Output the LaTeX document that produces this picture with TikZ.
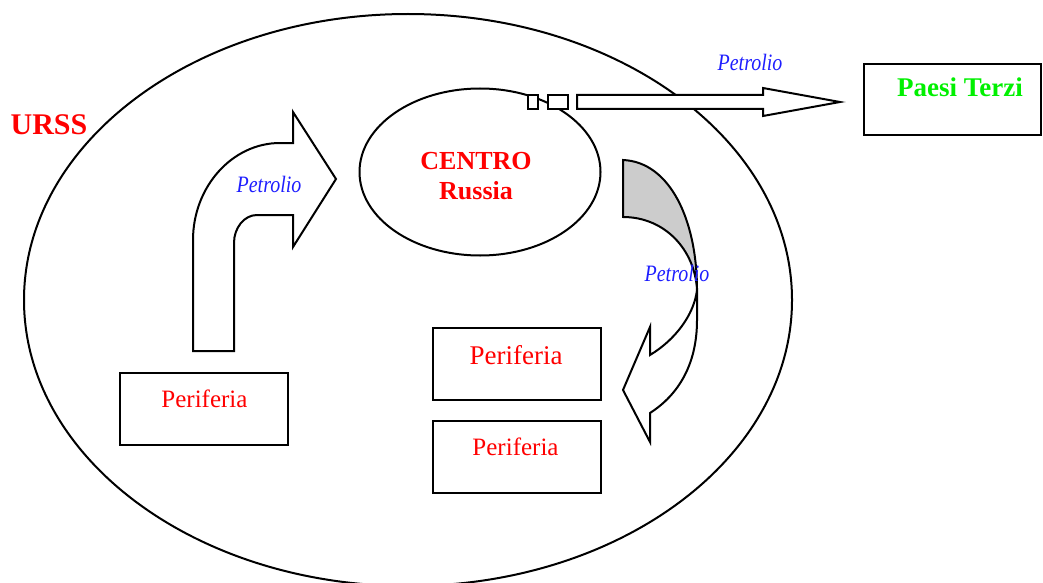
\documentclass[tikz,border=0pt]{standalone}
\usepackage{fontspec}
\setmainfont{Liberation Serif}[BoldFont={Liberation Serif Bold}, ItalicFont={Liberation Serif Italic}]
\newfontfamily\oilfont{Liberation Serif Italic}[FakeStretch=0.85]
\usetikzlibrary{shapes.geometric}
\definecolor{pred}{RGB}{255,0,0}
\definecolor{pblue}{RGB}{30,30,255}
\definecolor{pgreen}{RGB}{0,240,0}
\definecolor{pgray}{RGB}{204,204,204}
\tikzset{
  ln/.style={line width=2pt, line join=miter},
  box/.style={ln, draw, rectangle, inner sep=0pt},
  lab/.style={anchor=base, inner sep=0pt, text=pred, font=\fontsize{25}{30}\selectfont},
  bold/.style={anchor=base, inner sep=0pt, text=pred, font=\fontsize{26}{30}\selectfont\bfseries},
  oil/.style={anchor=base, inner sep=0pt, text=pblue, font=\oilfont\fontsize{23.5}{28}\selectfont},
  blockarrow/.style={ln, draw, fill=white},
}
\begin{document}
\begin{tikzpicture}[x=1pt,y=-1pt]
\useasboundingbox (0,0) rectangle (1043,583);
\clip (0,0) rectangle (1043,583);
% big ellipse URSS
\node[ln, draw, ellipse, minimum width=768pt, minimum height=572pt, inner sep=0pt] (urss) at (408,300) {};
\node[bold, font=\fontsize{30}{34}\selectfont\bfseries] (ursslab) at (49,134) {URSS};
% centre ellipse
\node[ln, draw, ellipse, minimum width=241pt, minimum height=167pt, inner sep=0pt] (centro) at (480,172) {};
\node[bold] (centrolab) at (476,169) {CENTRO};
\node[bold] (russialab) at (476,199) {Russia};
% Paesi Terzi box
\node[box, minimum width=177pt, minimum height=71pt] (terzi) at (952.5,99.5) {};
\node[bold, text=pgreen, font=\fontsize{27}{30}\selectfont\bfseries] (terzilab) at (960,97) {Paesi Terzi};
% Periferia boxes
\node[box, minimum width=168pt, minimum height=72pt] (per1) at (204,409) {};
\node[lab] (per1lab) at (204.5,407) {Periferia};
\node[box, minimum width=168pt, minimum height=72pt] (per2) at (516.5,364) {};
\node[lab, font=\fontsize{27}{30}\selectfont] (per2lab) at (516,364) {Periferia};
\node[box, minimum width=168pt, minimum height=72pt] (per3) at (516.5,457) {};
\node[lab] (per3lab) at (515.5,455) {Periferia};
% top arrow to Paesi Terzi
\draw[blockarrow] (528,95) rectangle (538,109);
\draw[blockarrow] (548,95) rectangle (568,109);
\draw[blockarrow] (577,95) -- (763,95) -- (763,88) -- (840,102) -- (763,116) -- (763,109) -- (577,109) -- cycle;
\node[oil] (oil1) at (750,71) {Petrolio};
% left bent arrow
\draw[blockarrow] (193,351) -- (193,240)
  .. controls (193,187) and (232,143) .. (280,143)
  -- (293,143) -- (293,112) -- (336,179) -- (293,247) -- (293,215) -- (257,215)
  .. controls (244,215) and (234,228) .. (234,243)
  -- (234,351) -- cycle;
\node[oil] (oil2) at (269,192) {Petrolio};
% right curved arrow (back, gray)
\draw[ln, fill=pgray] (623,160) .. controls (670,162) and (697,220) .. (697,290)
  .. controls (695,250) and (665,217) .. (623,217) -- cycle;
% right curved arrow (front, white)
\draw[blockarrow] (697,290) -- (697,320)
  .. controls (697,365) and (678,395) .. (650,413)
  -- (650,442) -- (623,390) -- (650,327) -- (650,355)
  .. controls (675,340) and (694,315) .. (697,290) -- cycle;
\node[oil] (oil3) at (677,281) {Petrolio};
\end{tikzpicture}
\end{document}
